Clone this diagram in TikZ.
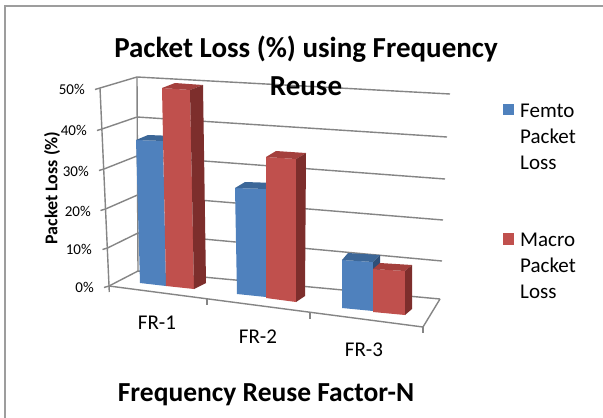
\documentclass[tikz,border=0pt]{standalone}
\usepackage{fontspec}
\setmainfont{Carlito}
\definecolor{bfront}{HTML}{4F81BD}
\definecolor{btop}{HTML}{3C6798}
\definecolor{bside}{HTML}{2E4F78}
\definecolor{rfront}{HTML}{C0504D}
\definecolor{rtop}{HTML}{A4403D}
\definecolor{rside}{HTML}{7D2E2C}
\definecolor{gridc}{HTML}{858585}
\begin{document}
\begin{tikzpicture}[x=1pt,y=-1pt,
  grid/.style={draw=gridc,line width=1.4pt},
  frame/.style={draw=gridc!80,line width=1.2pt},
  ticklab/.style={anchor=east,inner sep=0pt,font=\fontsize{15}{18}\selectfont},
  catlab/.style={inner sep=0pt,font=\fontsize{21}{24}\selectfont},
  legtext/.style={anchor=north west,inner sep=0pt,align=left,font=\fontsize{21}{26}\selectfont},
  legkey/.style={inner sep=0pt,minimum size=11.5pt},
  boldlab/.style={inner sep=0pt,font=\bfseries\fontsize{27.5}{38}\selectfont}]
\useasboundingbox (0,0) rectangle (603,418);
\fill[white] (0,0) rectangle (603,418);
% outer frame
\draw[frame] (5,418) -- (5,6) -- (603,6);
% back wall grid lines
\foreach \ax/\ay/\bx/\by/\cx/\cy in {100/88/137/77/450/94, 102/129/137/117/447/137, 104/169/137/156/445/179, 105.5/209/137.5/195/443/220, 107.5/248/138/233/442/261, 109/286/138/271/440/299}{
  \draw[grid] (\ax-5,\ay+1.5) -- (\ax,\ay) -- (\bx,\by) -- (\cx,\cy);
}
\draw[grid] (137,77) -- (138,271);
\draw[grid] (100,88) -- (109.3,292);
% floor
\draw[grid] (109,286) -- (423,327) -- (440,299);
\draw[grid] (207,299) -- (207,305);
\draw[grid] (310,312.5) -- (310,319);
\draw[grid] (423,327) -- (423,333);
% bars: FR-1
\fill[bfront] (136,140) -- (163,141) -- (166,286) -- (140,283) -- cycle;
\fill[btop] (136,140) -- (148,135) -- (175,136) -- (163,141) -- cycle;
\fill[rfront] (162,88) -- (190,90) -- (194,289) -- (166,286) -- cycle;
\fill[rtop] (162,88) -- (175,83) -- (203,85) -- (190,90) -- cycle;
\fill[rside] (190,90) -- (203,85) -- (206,283) -- (194,289) -- cycle;
% FR-2
\fill[bfront] (235,188) -- (266,189) -- (266,297) -- (237,294) -- cycle;
\fill[btop] (235,188) -- (245,182) -- (276,183) -- (266,189) -- cycle;
\fill[rfront] (266,157) -- (296,159) -- (296,302) -- (266,298) -- cycle;
\fill[rtop] (266,157) -- (276,151) -- (306,153) -- (296,159) -- cycle;
\fill[rside] (296,159) -- (306,153) -- (305,296) -- (296,302) -- cycle;
% FR-3
\fill[bfront] (342,260) -- (373,262) -- (373,311) -- (342,308) -- cycle;
\fill[btop] (342,260) -- (348,253) -- (380,255) -- (373,262) -- cycle;
\fill[bside] (373,262) -- (380,255) -- (380,300) -- (373,306) -- cycle;
\fill[rfront] (373,269) -- (405,271) -- (405,315) -- (373,312) -- cycle;
\fill[rtop] (373,269) -- (380,263) -- (412,265) -- (405,271) -- cycle;
\fill[rside] (405,271) -- (412,265) -- (412,309) -- (405,315) -- cycle;
% tick labels
\node[ticklab] (t50) at (85,89) {50\%};
\node[ticklab] (t40) at (87,130) {40\%};
\node[ticklab] (t30) at (89,171) {30\%};
\node[ticklab] (t20) at (91,211) {20\%};
\node[ticklab] (t10) at (92,249) {10\%};
\node[ticklab] (t0) at (94,287) {0\%};
% category labels
\node[catlab] (c1) at (157,323) {FR-1};
\node[catlab] (c2) at (258,337) {FR-2};
\node[catlab] (c3) at (364,350) {FR-3};
% axis titles
\node[boldlab,font=\bfseries\fontsize{18}{22}\selectfont,rotate=90] (ytitle) at (52,188) {Packet Loss (\%)};
\node[boldlab] (xtitle) at (266,395) {Frequency Reuse Factor-N};
\node[boldlab,align=center,font=\bfseries\fontsize{29}{38}\selectfont] (title) at (306,66) {Packet Loss (\%) using Frequency\\Reuse};
% legend
\node[legkey,fill=bfront] (k1) at (508.5,109.5) {};
\node[legtext] (l1) at (520,103.5) {Femto\\Packet\\Loss};
\node[legkey,fill=rfront] (k2) at (508.5,239) {};
\node[legtext] (l2) at (520,233) {Macro\\Packet\\Loss};
\end{tikzpicture}
\end{document}
